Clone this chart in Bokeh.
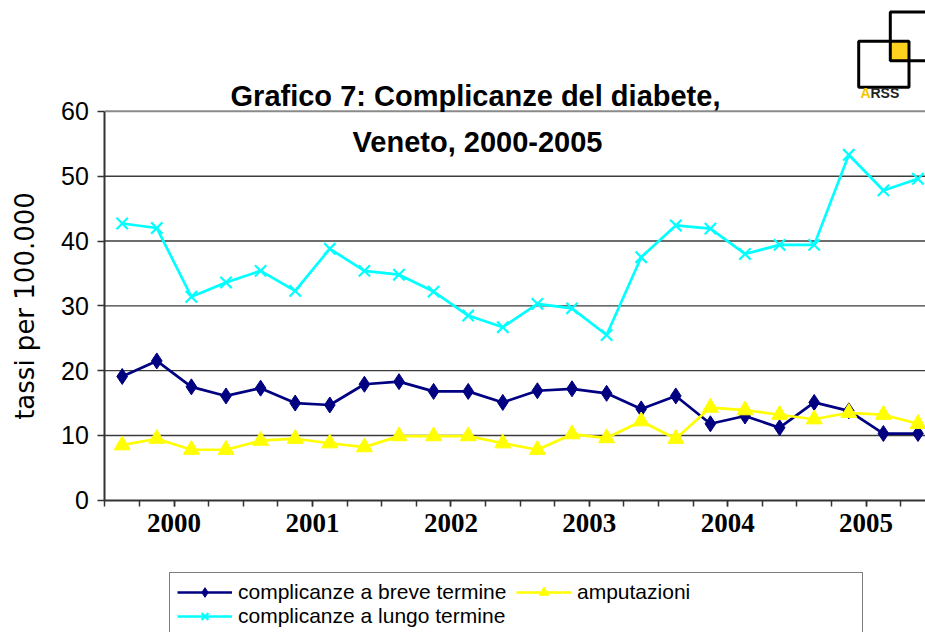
from bokeh.plotting import figure
from bokeh.models import (FixedTicker, Range1d, Label, BoxAnnotation,
                          Legend, LegendItem, ColumnDataSource)
from bokeh.embed import file_html
from bokeh.resources import INLINE

# ---- data (quarterly rates per 100.000, Veneto 2000-2005) ----
years = ["2000", "2001", "2002", "2003", "2004", "2005"]
quarters_per_year = 4
breve = [19.1, 21.5, 17.5, 16.1, 17.3, 15.0, 14.7, 17.9, 18.3, 16.8, 16.8, 15.1,
         16.9, 17.2, 16.5, 14.1, 16.1, 11.8, 13.0, 11.2, 15.1, 13.8, 10.3, 10.3]
amputazioni = [8.5, 9.5, 7.8, 7.8, 9.2, 9.5, 8.8, 8.2, 9.9, 9.9, 9.9, 8.8,
               7.8, 10.2, 9.6, 12.2, 9.5, 14.3, 13.9, 13.2, 12.5, 13.5, 13.2, 11.8]
lungo = [42.7, 42.0, 31.4, 33.6, 35.4, 32.3, 38.8, 35.4, 34.8, 32.2, 28.5, 26.7,
         30.3, 29.6, 25.5, 37.5, 42.4, 41.9, 38.0, 39.4, 39.4, 53.3, 47.8, 49.6]
y_ticks = [0, 10, 20, 30, 40, 50, 60]
series_names = ["complicanze a breve termine", "amputazioni", "complicanze a lungo termine"]

n = len(breve)
n_slots = quarters_per_year * len(years)
xq = [i + 0.5 for i in range(n)]  # centre of each quarter slot
src = ColumnDataSource(dict(x=xq, breve=breve, amp=amputazioni, lungo=lungo))

# ---- layout geometry (pixels) ----
W, H = 925, 632
AX_X, AX_Y = 104.4, 499.8        # pixel position of the axes origin
PX_X, PX_Y = 34.6, 6.4825        # pixels per quarter / per unit
x_range = Range1d(-AX_X / PX_X, (W - AX_X) / PX_X)
y_range = Range1d(-(H - AX_Y) / PX_Y, AX_Y / PX_Y)

p = figure(width=W, height=H, output_backend="svg", toolbar_location=None,
           x_range=x_range, y_range=y_range,
           min_border_left=0, min_border_right=0, min_border_top=0,
           min_border_bottom=0, background_fill_color="white",
           border_fill_color="white")
p.outline_line_color = None
p.xgrid.visible = False
p.ygrid.visible = False

# horizontal grid lines from the axis to the right edge
ymax = y_ticks[-1]
p.segment(x0=0, x1=x_range.end, y0=y_ticks[1:-1], y1=y_ticks[1:-1],
          line_color="#3c3c3c", line_width=1.4, level="underlay")
p.segment(x0=0, x1=x_range.end, y0=ymax, y1=ymax,
          line_color="#8a8a8a", line_width=2, level="underlay")

# y axis (fixed at x = 0, limited to 0..60)
ya = p.yaxis[0]
ya.fixed_location = 0
ya.bounds = (y_ticks[0], y_ticks[-1])
ya.ticker = FixedTicker(ticks=y_ticks)
ya.axis_label = "tassi per 100.000"
ya.axis_label_text_font = "DejaVu Sans"
ya.axis_label_text_font_size = "26px"
ya.axis_label_text_font_style = "normal"
ya.axis_label_text_color = "black"
ya.axis_label_standoff = 18
ya.major_label_text_font = "Liberation Sans"
ya.major_label_text_font_size = "25px"
ya.major_label_text_color = "black"
ya.major_label_standoff = 9
ya.axis_line_width = 2
ya.axis_line_color = "#333333"
ya.major_tick_in = 0
ya.major_tick_out = 7
ya.major_tick_line_color = "#333333"
ya.major_tick_line_width = 1.5
ya.minor_tick_line_color = None

# x axis: year labels at mid-year, ticks at each quarter boundary
xa = p.xaxis[0]
xa.fixed_location = 0
xa.bounds = (0, n_slots)
year_pos = [quarters_per_year * i + quarters_per_year / 2 for i in range(len(years))]
xa.ticker = FixedTicker(ticks=year_pos, minor_ticks=list(range(0, n_slots + 1)))
xa.major_label_overrides = {yp: y for yp, y in zip(year_pos, years)}
xa.major_label_text_font = "Liberation Serif"
xa.major_label_text_font_style = "bold"
xa.major_label_text_font_size = "27px"
xa.major_label_text_color = "black"
xa.major_label_standoff = 8
xa.axis_line_width = 2
xa.axis_line_color = "#333333"
xa.major_tick_in = 0
xa.major_tick_out = 6
xa.minor_tick_in = 0
xa.minor_tick_out = 6
xa.major_tick_line_color = "#333333"
xa.minor_tick_line_color = "#333333"
xa.major_tick_line_width = 1.5
xa.minor_tick_line_width = 1.5

# series
NAVY, YEL, CYAN = "#000080", "#FFFF00", "#00FFFF"
l1 = p.line("x", "breve", source=src, line_color=NAVY, line_width=2.7)
m1 = p.scatter("x", "breve", source=src, marker="diamond", size=16,
               fill_color=NAVY, line_color=NAVY)
l2 = p.line("x", "amp", source=src, line_color=YEL, line_width=2.7)
m2 = p.scatter("x", "amp", source=src, marker="triangle", size=16,
               fill_color=YEL, line_color=YEL)
l3 = p.line("x", "lungo", source=src, line_color=CYAN, line_width=2.7)
m3 = p.scatter("x", "lungo", source=src, marker="x", size=16,
               line_color=CYAN, line_width=2.2)

legend = Legend(items=[LegendItem(label=series_names[0], renderers=[l1, m1]),
                       LegendItem(label=series_names[1], renderers=[l2, m2]),
                       LegendItem(label=series_names[2], renderers=[l3, m3])],
                location=(169, -4), orientation="horizontal", ncols=2,
                glyph_width=55, glyph_height=24, label_height=24, label_width=278,
                label_standoff=6, spacing=0, padding=7, margin=0,
                label_text_font="Liberation Sans", label_text_font_size="21px",
                label_text_color="black", border_line_color="black",
                border_line_width=1, background_fill_color="white",
                background_fill_alpha=1)
p.add_layout(legend, "center")

# title (two lines); screen units measured from the bottom-left corner
tfont = dict(text_font="Liberation Sans", text_font_style="bold",
             text_font_size="29px", text_color="black", text_align="center",
             text_baseline="alphabetic", x_units="screen", y_units="screen")
p.add_layout(Label(x=475, y=H - 95, text="Grafico 7: Complicanze del diabete,", **tfont))
p.add_layout(Label(x=477, y=H - 141.7, text="Veneto, 2000-2005", **tfont))

# ARSS logo (top right)
bu = dict(left_units="screen", right_units="screen", top_units="screen", bottom_units="screen")
p.add_layout(BoxAnnotation(left=890, right=909.3, top=H - 41.7, bottom=H - 61,
                           fill_color="#FFD21F", fill_alpha=1, line_color=None, **bu))
for (lft, rgt, top, bot) in [(858.2, 908.5, 40.8, 86.8), (889.8, 940, 11.5, 60.2)]:
    p.add_layout(BoxAnnotation(left=lft, right=rgt, top=H - top, bottom=H - bot,
                               fill_alpha=0, line_color="black", line_alpha=1,
                               line_width=3, **bu))
p.add_layout(Label(x=860, y=H - 100, text="A", x_units="screen", y_units="screen",
                   text_font="Liberation Sans", text_font_style="bold",
                   text_font_size="14px", text_color="#F2C500"))
p.add_layout(Label(x=870, y=H - 100, text="RSS", x_units="screen", y_units="screen",
                   text_font="Liberation Sans", text_font_style="bold",
                   text_font_size="14px", text_color="#222222"))

open("out.html", "w").write(file_html(p, INLINE))
